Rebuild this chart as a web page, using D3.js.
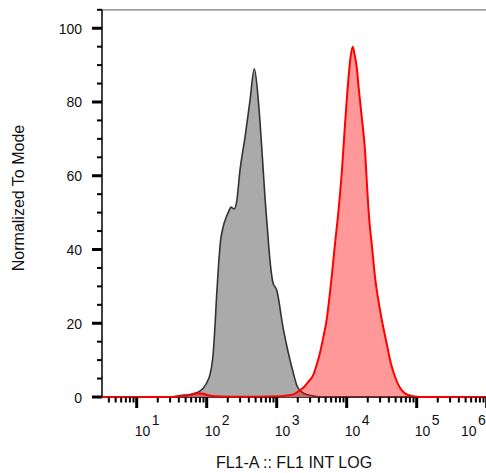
<!DOCTYPE html>
<html>
<head>
<meta charset="utf-8">
<script src="https://cdn.jsdelivr.net/npm/d3@7"></script>
<style>
  body { margin: 0; background: #fff; }
  svg { display: block; font-family: "Liberation Sans", Arial, sans-serif; }
</style>
</head>
<body>
<div id="chart"></div>
<script>
// ---- Data ----
// Control (gray) histogram: fluorescence intensity and % of mode
const controlIntensity = [3.2, 30, 42, 58, 73, 89, 101, 111, 124, 132, 139, 148, 157, 171, 192, 208, 222, 246, 268, 299, 353, 416, 479, 546, 611, 681, 734, 802, 885, 1000, 1242, 1465, 1727, 1951, 2153, 2537, 3300, 4160, 1000000];
const controlValues    = [0,   0,  0.4, 0.7, 1.2, 2.4, 4, 6, 12, 20, 28, 36, 42, 46, 49, 50.5, 51.5, 51, 53, 61.5, 70.5, 80.5, 89, 80.5, 67.8, 54, 46, 37, 31, 29, 18.5, 12, 6.5, 3, 1.8, 0.8, 0.3, 0, 0];

// Stained (red) histogram
const stainedIntensity = [3.2, 30, 42, 58, 75, 89, 104, 132, 214, 574, 1114, 1403, 1727, 2014, 2399, 2800, 3335, 3763, 4160, 4667, 5180, 5587, 6107, 6808, 7590, 8484, 9466, 10550, 11330, 12180, 12920, 13880, 14980, 16380, 18250, 19690, 21030, 22750, 25370, 29910, 37250, 42930, 48960, 57690, 68030, 89350, 110000, 1000000];
const stainedValues    = [0, 0, 0.2, 0.5, 1, 0.9, 0.5, 0.2, 0.1, 0.1, 0.2, 0.4, 0.7, 1.5, 2.5, 4, 6, 9, 12, 16.5, 21, 26, 32.6, 41.6, 50, 60.6, 74, 86, 92, 95, 93, 89.5, 83, 76, 67, 56, 48, 41.6, 32.6, 23.6, 14.5, 9, 5.5, 2.5, 1, 0.2, 0, 0];

const yTickValues = [0, 20, 40, 60, 80, 100];
const xDecades = [1, 2, 3, 4, 5, 6];
const yTitle = "Normalized To Mode";
const xTitle = "FL1-A :: FL1 INT LOG";

// ---- Layout ----
const W = 486, H = 473;
const plotLeft = 102, plotRight = 486, plotTop = 9.8, plotBottom = 397;

const svg = d3.select("#chart").append("svg").attr("width", W).attr("height", H);

const x = d3.scaleLog().domain([1, 1e6]).range([66.7, 486.7]);
const y = d3.scaleLinear().domain([0, 105]).range([plotBottom, plotTop]);

svg.append("defs").append("clipPath").attr("id", "clip")
  .append("rect").attr("x", plotLeft).attr("y", 0).attr("width", plotRight - plotLeft).attr("height", plotBottom + 2);

const series = [
  {xs: controlIntensity, ys: controlValues, fill: "#aaaaaa", stroke: "#333333", sw: 1.6},
  {xs: stainedIntensity, ys: stainedValues, fill: "rgba(255,0,0,0.4)", stroke: "#ff0000", sw: 2}
];

const area = d3.area().x(d => x(d[0])).y0(y(0)).y1(d => y(d[1])).curve(d3.curveMonotoneX);
const line = d3.line().x(d => x(d[0])).y(d => y(d[1])).curve(d3.curveMonotoneX);

// top frame line
svg.append("line").attr("x1", plotLeft).attr("x2", plotRight).attr("y1", plotTop).attr("y2", plotTop)
  .attr("stroke", "#777").attr("stroke-width", 1.2);

// bottom axis baseline
svg.append("line").attr("x1", plotLeft).attr("x2", plotRight).attr("y1", plotBottom).attr("y2", plotBottom)
  .attr("stroke", "#000").attr("stroke-width", 1.5);

const g = svg.append("g").attr("clip-path", "url(#clip)");
series.forEach(s => {
  const pts = s.xs.map((v, i) => [v, s.ys[i]]);
  g.append("path").datum(pts).attr("d", area).attr("fill", s.fill);
  g.append("path").datum(pts).attr("d", line).attr("fill", "none")
    .attr("stroke", s.stroke).attr("stroke-width", s.sw).attr("stroke-linejoin", "round");
});

// ---- Y axis ----
svg.append("line").attr("x1", plotLeft).attr("x2", plotLeft).attr("y1", plotTop).attr("y2", plotBottom)
  .attr("stroke", "#000").attr("stroke-width", 1.5);
const yMinor = d3.range(0, 106, 5).filter(v => !yTickValues.includes(v));
svg.selectAll(".ymin").data(yMinor).enter().append("line")
  .attr("x1", plotLeft - 5).attr("x2", plotLeft).attr("y1", d => y(d)).attr("y2", d => y(d))
  .attr("stroke", "#000").attr("stroke-width", 2);
svg.selectAll(".ymaj").data(yTickValues).enter().append("line")
  .attr("x1", plotLeft - 10).attr("x2", plotLeft).attr("y1", d => y(d)).attr("y2", d => y(d))
  .attr("stroke", "#000").attr("stroke-width", 3);
svg.selectAll(".ylab").data(yTickValues).enter().append("text")
  .attr("x", 82).attr("y", d => y(d) + 5.5).attr("text-anchor", "end")
  .attr("font-size", 14).attr("fill", "#111").text(d => d);

// ---- X axis ----
const xMinor = [];
for (let n = 0; n <= 5; n++) for (let k = 2; k <= 9; k++) xMinor.push(k * Math.pow(10, n));
svg.selectAll(".xmin").data(xMinor.filter(v => x(v) >= plotLeft && x(v) <= plotRight)).enter().append("line")
  .attr("x1", d => x(d)).attr("x2", d => x(d)).attr("y1", plotBottom).attr("y2", plotBottom + 5.5)
  .attr("stroke", "#000").attr("stroke-width", 2);
svg.selectAll(".xmaj").data(xDecades.filter(e => x(Math.pow(10, e)) <= plotRight + 2)).enter().append("line")
  .attr("x1", d => x(Math.pow(10, d))).attr("x2", d => x(Math.pow(10, d)))
  .attr("y1", plotBottom).attr("y2", plotBottom + 11)
  .attr("stroke", "#000").attr("stroke-width", 3);
const xl = svg.selectAll(".xlab").data(xDecades).enter().append("text")
  .attr("x", d => Math.min(x(Math.pow(10, d)) - 2, W - 25)).attr("y", 436)
  .attr("font-size", 14).attr("fill", "#111");
xl.append("tspan").text("10");
xl.append("tspan").attr("dx", 1.5).attr("dy", -11).text(d => d);

// ---- Titles ----
svg.append("text").attr("x", 294).attr("y", 468).attr("text-anchor", "middle")
  .attr("font-size", 16).attr("fill", "#111").text(xTitle);
svg.append("text").attr("transform", "translate(24,198) rotate(-90)").attr("text-anchor", "middle")
  .attr("font-size", 16).attr("fill", "#111").text(yTitle);
</script>
</body>
</html>
